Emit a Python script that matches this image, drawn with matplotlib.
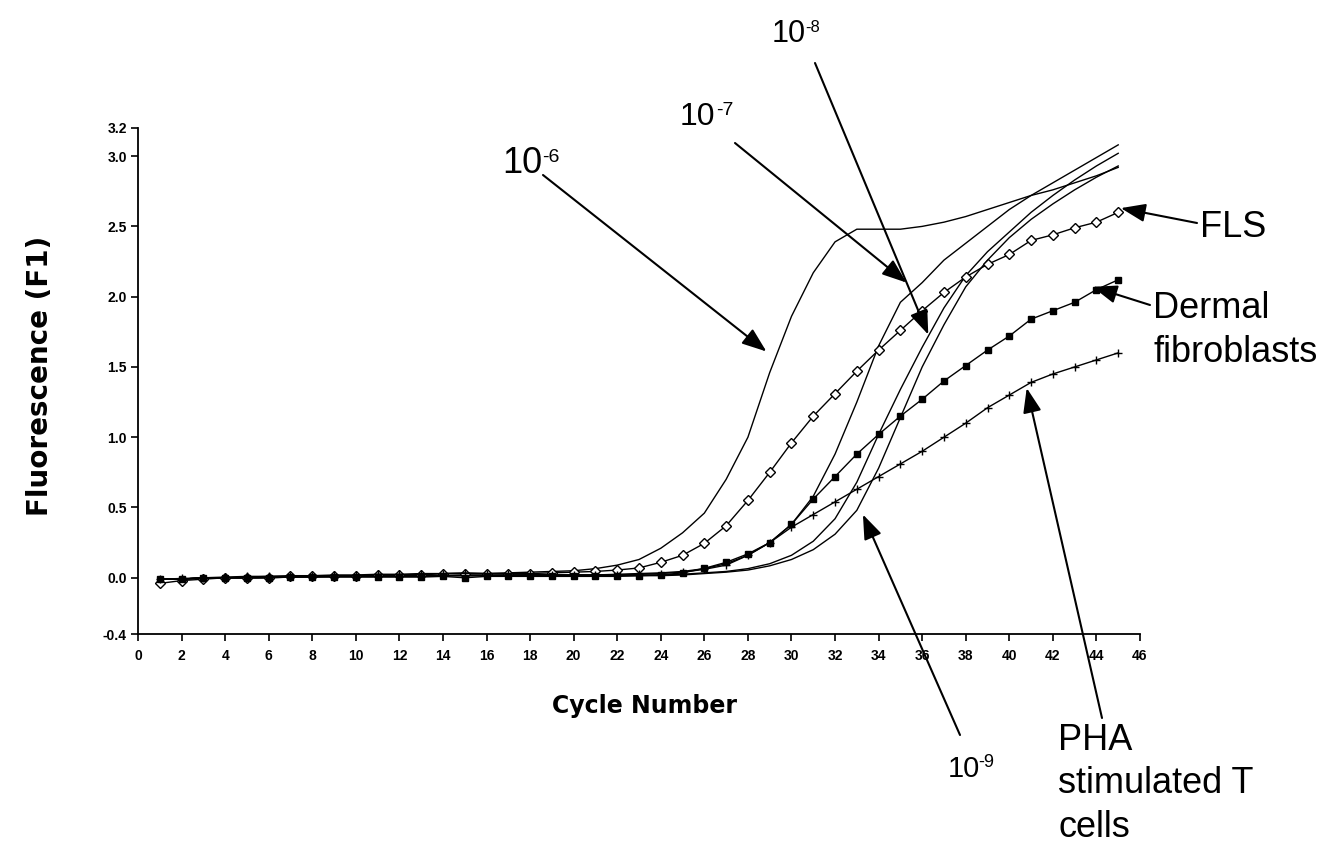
#!/usr/bin/env python

import numpy as np
from matplotlib import pyplot as plt

cycles = np.arange(1, 46)

# dilution standards (solid lines)
std_1e6 = [-0.01, -0.01, 0.0, 0.0, 0.005, 0.01, 0.01, 0.01, 0.015, 0.015,
           0.02, 0.02, 0.025, 0.03, 0.03, 0.03, 0.035, 0.04, 0.045, 0.05,
           0.065, 0.09, 0.13, 0.21, 0.32, 0.46, 0.70, 1.00, 1.46, 1.86,
           2.17, 2.39, 2.48, 2.48, 2.48, 2.50, 2.53, 2.57, 2.62, 2.67,
           2.72, 2.76, 2.81, 2.86, 2.92]
std_1e7 = [-0.01, -0.01, 0.0, 0.0, 0.0, 0.005, 0.005, 0.01, 0.01, 0.01,
           0.01, 0.015, 0.015, 0.015, 0.02, 0.02, 0.02, 0.02, 0.02, 0.02,
           0.02, 0.025, 0.03, 0.035, 0.045, 0.065, 0.10, 0.16, 0.25, 0.38,
           0.58, 0.88, 1.25, 1.65, 1.96, 2.10, 2.26, 2.38, 2.50, 2.62,
           2.72, 2.81, 2.90, 2.99, 3.08]
std_1e8 = [-0.01, -0.01, 0.0, 0.0, 0.0, 0.005, 0.005, 0.01, 0.01, 0.01,
           0.01, 0.01, 0.015, 0.015, 0.015, 0.015, 0.02, 0.02, 0.02, 0.02,
           0.02, 0.02, 0.02, 0.02, 0.025, 0.035, 0.045, 0.065, 0.10, 0.16,
           0.26, 0.42, 0.68, 1.02, 1.34, 1.64, 1.92, 2.15, 2.32, 2.46,
           2.60, 2.72, 2.83, 2.93, 3.02]
std_1e9 = [-0.01, -0.01, 0.0, 0.0, 0.0, 0.0, 0.005, 0.005, 0.01, 0.01,
           0.01, 0.01, 0.01, 0.015, 0.015, 0.015, 0.015, 0.015, 0.015, 0.015,
           0.015, 0.015, 0.015, 0.015, 0.02, 0.03, 0.04, 0.055, 0.085, 0.13,
           0.20, 0.31, 0.48, 0.78, 1.14, 1.50, 1.80, 2.07, 2.26, 2.42,
           2.55, 2.66, 2.76, 2.85, 2.93]

# samples (lines with markers)
fls = [-0.04, -0.02, -0.01, 0.0, 0.0, 0.0, 0.01, 0.01, 0.01, 0.01,
       0.02, 0.02, 0.02, 0.03, 0.03, 0.03, 0.03, 0.03, 0.035, 0.04,
       0.045, 0.055, 0.07, 0.11, 0.16, 0.245, 0.37, 0.55, 0.75, 0.96,
       1.15, 1.31, 1.47, 1.62, 1.76, 1.90, 2.03, 2.14, 2.23, 2.30,
       2.40, 2.44, 2.49, 2.53, 2.60]
dermal = [-0.01, -0.01, 0.0, 0.0, 0.0, 0.0, 0.005, 0.005, 0.005, 0.005,
          0.005, 0.005, 0.005, 0.01, 0.0, 0.01, 0.01, 0.01, 0.01, 0.01,
          0.01, 0.01, 0.015, 0.02, 0.035, 0.067, 0.11, 0.17, 0.25, 0.38,
          0.56, 0.72, 0.88, 1.02, 1.15, 1.27, 1.40, 1.51, 1.62, 1.72,
          1.84, 1.90, 1.96, 2.05, 2.12]
pha = [-0.01, -0.005, 0.0, 0.005, 0.01, 0.01, 0.015, 0.015, 0.02, 0.02,
       0.025, 0.025, 0.03, 0.03, 0.035, 0.03, 0.03, 0.025, 0.02, 0.02,
       0.02, 0.02, 0.025, 0.03, 0.04, 0.06, 0.09, 0.16, 0.25, 0.36,
       0.45, 0.54, 0.63, 0.72, 0.81, 0.90, 1.00, 1.10, 1.21, 1.30,
       1.39, 1.45, 1.50, 1.55, 1.60]

x_ticks = list(range(0, 47, 2))
y_ticks = [-0.4, 0.0, 0.5, 1.0, 1.5, 2.0, 2.5, 3.0, 3.2]
y_tick_labels = ['-0.4', '0.0', '0.5', '1.0', '1.5', '2.0', '2.5', '3.0', '3.2']

W, H = 1340, 847
fig = plt.figure(figsize=(W / 100, H / 100), dpi=100)
ax = fig.add_axes([138 / W, (H - 634) / H, (1140 - 138) / W, (634 - 128) / H])

for y in [std_1e6, std_1e7, std_1e8, std_1e9]:
    ax.plot(cycles, y, '-', color='black', lw=1.0)
ax.plot(cycles, fls, '-', color='black', lw=1.0, marker='D', ms=5,
        mfc='white', mec='black', mew=1.0)
ax.plot(cycles, dermal, '-', color='black', lw=1.0, marker='s', ms=4.5,
        mfc='black', mec='black')
ax.plot(cycles, pha, '-', color='black', lw=1.0, marker='+', ms=6, mew=1.0)

ax.set_xlim(0, 46)
ax.set_ylim(-0.4, 3.2)
ax.spines['top'].set_visible(False)
ax.spines['right'].set_visible(False)
ax.spines['left'].set_linewidth(1.3)
ax.spines['bottom'].set_linewidth(1.3)
ax.set_xticks(x_ticks)
ax.set_xticklabels([str(t) for t in x_ticks], fontfamily='Liberation Sans',
                   fontweight='bold', fontsize=10)
ax.set_yticks(y_ticks)
ax.set_yticklabels(y_tick_labels, fontfamily='Liberation Sans',
                   fontweight='bold', fontsize=10)
ax.tick_params(axis='x', direction='out', length=5, width=1.2, pad=6)
ax.tick_params(axis='y', direction='out', length=5, width=1.2, pad=3)

fig.text(645 / W, 1 - 706 / H, 'Cycle Number', ha='center', va='center',
         fontfamily='DejaVu Sans', fontweight='bold', fontsize=17)
fig.text(40 / W, 1 - 376 / H, 'Fluorescence (F1)', ha='center', va='center',
         rotation=90, fontfamily='DejaVu Sans', fontweight='bold', fontsize=20)


def px_text(px, py, s, size):
    fig.text(px / W, 1 - py / H, s, ha='left', va='baseline',
             fontfamily='Liberation Sans', fontsize=size)


def arrow(tip, tail_px):
    ax.annotate('', xy=tip, xycoords='data',
                xytext=(tail_px[0], H - tail_px[1]), textcoords='figure pixels',
                arrowprops=dict(arrowstyle='-|>,head_length=0.75,head_width=0.28',
                                mutation_scale=20, color='black', lw=1.5,
                                shrinkA=0, shrinkB=0),
                annotation_clip=False)


# dilution labels: "10" plus superscript exponent
px_text(502, 173, '10', 26)
px_text(542, 162, '-6', 14)
px_text(680, 125, '10', 23)
px_text(716, 115, '-7', 14)
px_text(772, 42, '10', 22)
px_text(805, 32, '-8', 12)
px_text(948, 777, '10', 21)
px_text(978, 767, '-9', 13)

px_text(1200, 237, 'FLS', 26)
px_text(1153, 318, 'Dermal', 26)
px_text(1153, 362, 'fibroblasts', 26)
px_text(1058, 750, 'PHA', 26)
px_text(1058, 793, 'stimulated T', 26)
px_text(1058, 837, 'cells', 26)

arrow((28.85, 1.61), (543, 175))
arrow((35.28, 2.10), (735, 143))
arrow((36.28, 1.73), (815, 63))
arrow((33.28, 0.45), (960, 735))
arrow((40.80, 1.35), (1102, 718))
arrow((45.12, 2.63), (1197, 223))
arrow((43.82, 2.07), (1150, 305))

fig.savefig('out.png', dpi=100)
